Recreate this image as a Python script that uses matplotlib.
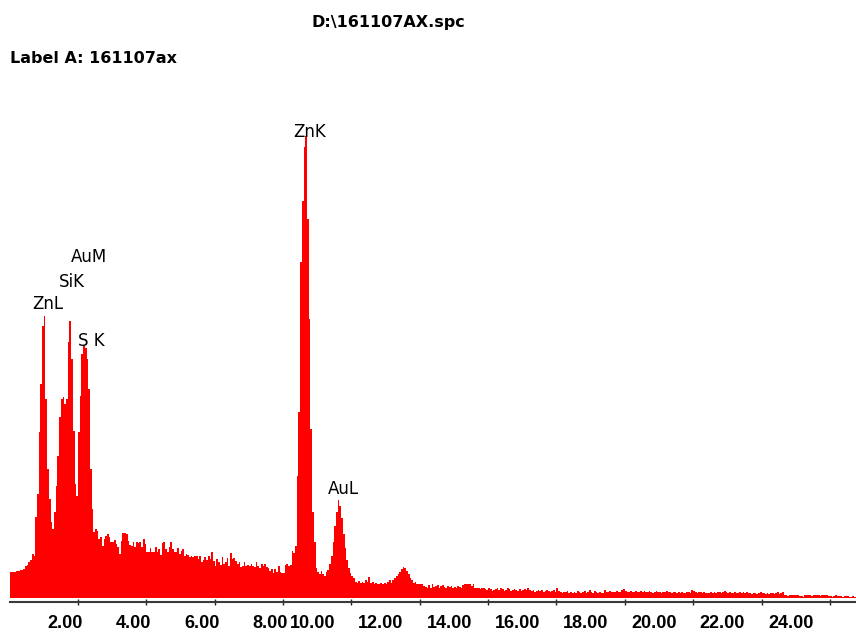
import numpy as np
import matplotlib
matplotlib.use("Agg")
import matplotlib.pyplot as plt
from matplotlib.transforms import blended_transform_factory

# ---- data: EDS spectrum, 0.05 keV channels starting at 0 keV ----
channel_width_kev = 0.05
start_kev = 0.0

counts_low = [26, 26, 26, 26, 27, 27, 28, 28, 29, 32, 33, 36, 38, 44, 42,
              81, 104, 166, 214, 272, 282, 199, 129, 99, 76, 69, 86, 112, 142, 181,
              199, 201, 194, 199, 256, 277, 239, 167, 114, 102, 166, 202, 244, 252, 250,
              239, 209, 129, 89, 66, 69, 67, 59, 61, 52, 59, 62, 64, 61]

counts_mid = [56, 56, 58, 54, 51, 44, 57, 65, 65, 64,
              57, 53, 52, 56, 51, 56, 55, 56, 51, 59,
              54, 46, 46, 50, 46, 46, 51, 46, 49, 43,
              55, 56, 49, 46, 51, 56, 49, 46, 46, 50,
              44, 47, 49, 42, 44, 43, 41, 42, 41, 42,
              42, 39, 42, 36, 38, 41, 38, 42, 39, 46,
              37, 32, 39, 36, 33, 41, 34, 36, 40, 32,
              45, 39, 40, 37, 34, 36, 31, 32, 36, 32,
              33, 32, 34, 32, 31, 36, 32, 30, 34, 32,
              34, 31, 30, 27, 29, 25, 29, 26, 32, 26,
              25, 25, 33, 34, 32]

counts_zn_au = [33, 47, 45, 52, 122, 186, 336, 397, 451, 462,
                379, 279, 169, 86, 56, 30, 26, 24, 27, 24,
                22, 26, 28, 34, 42, 56, 72, 86, 98, 92,
                80, 64, 50, 38, 30, 25, 22, 20]

counts_high = [16, 15, 17, 15, 16, 15, 18, 16, 21, 15,
               16, 14, 15, 14, 14, 15, 14, 15, 14, 16,
               18, 15, 18, 20, 22, 24, 26, 29, 31, 30,
               27, 24, 20, 18, 15, 16, 14, 14, 14, 14,
               12, 11, 10, 13, 10, 14, 11, 12, 13, 10,
               12, 13, 11, 10, 12, 11, 12, 10, 11, 10,
               12, 11, 10, 13, 14, 14, 14, 14, 12, 14,
               10, 10, 10, 9, 10, 10, 9, 8, 10, 9,
               7, 8, 9, 10, 8, 10, 9, 7, 8, 10,
               9, 7, 8, 9, 8, 7, 9, 7, 8, 9,
               8, 10, 8, 7, 8, 6, 7, 8, 7, 8,
               6, 7, 8, 7, 6, 7, 8, 6, 10, 7,
               6, 5, 6, 6, 7, 5, 6, 5, 6, 5,
               7, 6, 5, 6, 7, 5, 6, 8, 6, 5,
               7, 6, 5, 6, 5, 5]

counts_tail = [8, 6, 6, 7, 6, 6, 6, 7, 6, 6, 8, 9, 7, 6, 6, 7, 6, 6,
               7, 6, 6, 7, 6, 7, 6, 6, 7, 6, 5, 6, 7, 6, 6, 5, 6, 6, 7, 6,
               6, 5, 6, 6, 5, 6, 5, 6, 5, 5, 6, 6, 5, 8, 7, 6, 5, 6, 6, 5,
               6, 5, 5, 5, 6, 5, 6, 5, 6, 6, 5, 6, 7, 6, 5, 6, 5, 5, 6, 5,
               5, 6, 5, 6, 5, 6, 5, 5, 4, 5, 5, 4, 5, 6, 5, 5, 4, 5, 4, 5,
               5, 4, 5, 6, 4, 5, 6, 3, 3, 2, 3, 3, 3, 3, 3, 3, 2, 2, 1, 3,
               3, 3, 3, 2, 3, 3, 3, 3, 2, 3, 3, 3, 3, 2, 2, 1, 2, 3, 2, 2,
               2, 1, 2, 2, 2, 1, 1, 2, 1, 2]

tick_values = [2, 4, 6, 8, 10, 12, 14, 16, 18, 20, 22, 24]
tick_labels = ["2.00", "4.00", "6.00", "8.00", "10.00", "12.00", "14.00",
               "16.00", "18.00", "20.00", "22.00", "24.00"]

peak_names = ["ZnL", "SiK", "AuM", "S K", "ZnK", "AuL"]
peak_label_x = [1.12, 1.83, 2.32, 2.38, 8.79, 9.78]
peak_label_y = [289, 311, 336, 252, 461, 104]

title_text = "D:\\161107AX.spc"
label_text = "Label A: 161107ax"

# ---- figure ----
W, H = 856, 633
fig = plt.figure(figsize=(W / 100, H / 100), dpi=100)
fig.patch.set_facecolor("white")

x0_px = 9.6
px_per_kev = 34.18
base_px = 598
top_px = 100
ax = fig.add_axes([x0_px / W, (H - base_px) / H, (W - x0_px) / W, (base_px - top_px) / H])

counts = np.array(counts_low + counts_mid + counts_zn_au + counts_high + counts_tail, dtype=float)
edges = start_kev + channel_width_kev * np.arange(len(counts) + 1)
ax.stairs(counts, edges, fill=True, color="#ff0000", linewidth=0, baseline=0)

ax.set_xlim(0, (W - x0_px) / px_per_kev)
ax.set_ylim(0, base_px - top_px)

for s in ["top", "left", "right"]:
    ax.spines[s].set_visible(False)
ax.spines["bottom"].set_position(("outward", 3))
ax.spines["bottom"].set_color("#3a3a3a")
ax.spines["bottom"].set_linewidth(1.5)

ax.set_yticks([])
ax.set_xticks(tick_values)
ax.tick_params(axis="x", direction="inout", length=5, width=1.0, color="#202020",
               labelbottom=False)

# tick labels (offset to the left of their ticks as in the original software,
# drawn on an opaque background so 10.00 overlaps the end of 8.00)
trans = blended_transform_factory(ax.transData, fig.transFigure)
for v, lab in zip(tick_values, tick_labels):
    off_px = 13 if len(lab) == 4 else 39
    ax.text(v - off_px / px_per_kev, (H - 628) / H, lab, transform=trans,
            ha="center", va="baseline", fontsize=13, fontweight="bold",
            family="Liberation Sans", color="black", clip_on=False,
            bbox=dict(facecolor="white", edgecolor="none", pad=0.5))

# peak labels
for name, px, py in zip(peak_names, peak_label_x, peak_label_y):
    ax.text(px, py, name, ha="center", va="baseline", fontsize=12,
            family="DejaVu Sans", color="black", clip_on=False)

fig.text(388 / W, 1 - 27 / H, title_text, ha="center", va="baseline",
         fontsize=11.5, fontweight="bold", family="DejaVu Sans")
fig.text(10 / W, 1 - 63 / H, label_text, ha="left", va="baseline",
         fontsize=11.5, fontweight="bold", family="DejaVu Sans")

fig.savefig("out.png", dpi=100, facecolor="white")
